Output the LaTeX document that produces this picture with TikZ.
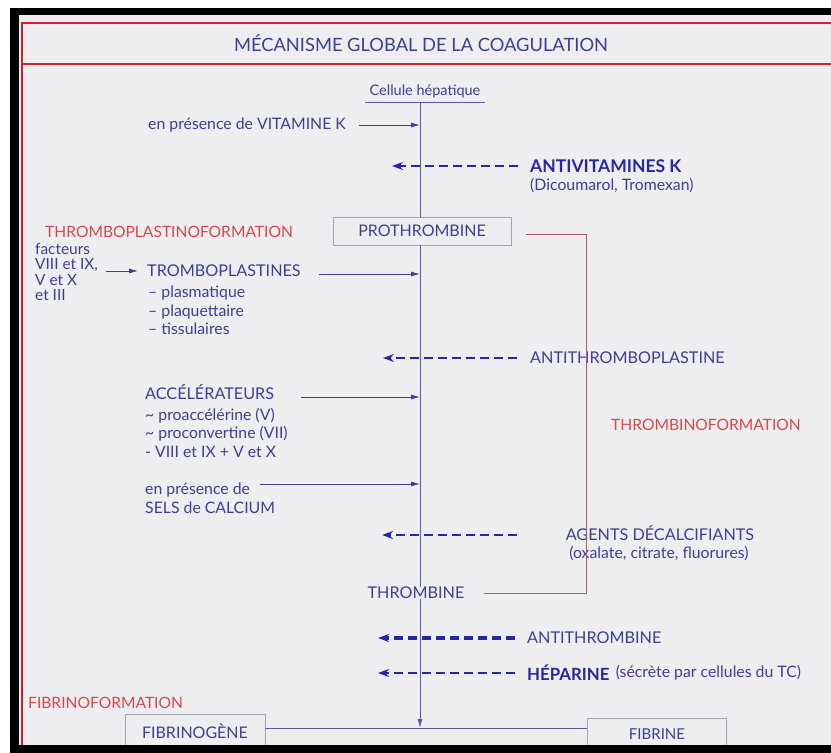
\documentclass[tikz,border=0pt]{standalone}
\usepackage{fontspec}
\setmainfont{Lato}
\usepackage{tikz}
\usetikzlibrary{positioning, calc, arrows.meta}
\definecolor{paper}{HTML}{EEEEF1}
\definecolor{ink}{HTML}{3C3F94}
\definecolor{deepink}{HTML}{2626A6}
\definecolor{redink}{HTML}{D9474A}
\definecolor{framered}{HTML}{D21F2F}
\definecolor{boxgrey}{HTML}{A2A2B4}
\definecolor{linkred}{HTML}{B05F6A}
\tikzset{>={Latex[length=9pt,width=5pt]}}

\begin{document}
\begin{tikzpicture}
    [x=1pt, y=-1pt,
     big/.style={text=ink, inner sep=0pt, font=\fontsize{16.2}{18}\selectfont},
     small/.style={text=ink, inner sep=0pt, align=left, font=\fontsize{15.8}{18.5}\selectfont},
     heavy/.style={text=deepink, inner sep=0pt, font=\fontsize{16.8}{18}\selectfont\bfseries},
     redlbl/.style={text=redink, inner sep=0pt, font=\fontsize{15.6}{18}\selectfont},
     my box/.style={draw=boxgrey, line width=0.8pt, text=ink, font=\fontsize{16}{18}\selectfont},
     feed/.style={->, draw=ink, line width=0.8pt},
     block/.style={-{Stealth[length=11pt,width=8pt]}, draw=deepink, line width=2.6pt, dash pattern=on 9pt off 5pt},
     spine/.style={draw=ink!85, line width=0.9pt},
     link/.style={draw=linkred, line width=0.9pt}]
    \useasboundingbox (0,0) rectangle (831,753);
    % frame
    \fill[white] (0,0) rectangle (831,753);
    \fill[black] (10,8) rectangle (831,753);
    \fill[paper] (19,15) rectangle (831,745);
    \draw[framered, line width=2pt] (22,745) -- (22,23) -- (831,23);
    \draw[framered, line width=2pt] (22,64) -- (831,64);
    \node[text=ink, font=\fontsize{18.3}{20}\selectfont] (title) at (421,43) {MÉCANISME GLOBAL DE LA COAGULATION};

    % source
    \node[small, font=\fontsize{14.5}{17}\selectfont] (cell) at (425,91) {Cellule hépatique};
    \coordinate (top) at (420,102);
    \draw[spine] (cell.west |- top) ++(-4,0) -- ([xshift=4pt]cell.east |- top);
    \node[small, anchor=west] (vitk) at (148,125) {en présence de VITAMINE K};
    \draw[feed] ([xshift=13pt]vitk.east) -- (vitk -| top);
    \node[heavy, font=\fontsize{17.5}{19}\selectfont\bfseries, anchor=west] (avk) at (530,166) {ANTIVITAMINES K};
    \node[small, anchor=west] (dicou) at (530,186) {(Dicoumarol, Tromexan)};
    \draw[block] ([xshift=-12pt]avk.west) -- ([xshift=-28pt]avk.west -| top);

    \node[my box, minimum width=178pt, minimum height=28pt] (proth) at (422,231) {PROTHROMBINE};
    \draw[spine] (top) -- (top |- proth.north);

    % thromboplastinoformation
    \node[redlbl, anchor=west] (tpf) at (45,232) {THROMBOPLASTINOFORMATION};
    \node[small, anchor=north west, font=\fontsize{15.4}{15.4}\selectfont] (fac) at (35,243) {facteurs\\VIII et IX,\\V et X\\et III};
    \node[big, anchor=west] (tpl) at (147,271) {TROMBOPLASTINES};
    \draw[feed] ([xshift=8pt]fac.east |- tpl) -- ([xshift=-9pt]tpl.west);
    \draw[feed] ([xshift=18pt,yshift=-3pt]tpl.east) -- ([yshift=-3pt]tpl.east -| top);
    \node[small, anchor=north west] (tpllist) at (148,286) {– plasmatique\\– plaquettaire\\– tissulaires};

    \node[big, anchor=west] (atp) at (530,358) {ANTITHROMBOPLASTINE};
    \draw[block] ([xshift=-13pt]atp.west) -- ([xshift=-37pt]atp.west -| top);

    \node[big, anchor=west] (acc) at (145,392) {ACCÉLÉRATEURS};
    \draw[feed] ([xshift=27pt,yshift=-5pt]acc.east) -- ([yshift=-5pt]acc.east -| top);
    \node[small, anchor=north west] (acclist) at (145,408) {\textasciitilde{} proaccélérine (V)\\\textasciitilde{} proconvertine (VII)\\- VIII et IX + V et X};

    \node[small, anchor=west] (cal1) at (145,490) {en présence de};
    \node[small, anchor=west] (cal2) at (145,508) {SELS de CALCIUM};
    \draw[feed] ([xshift=10pt,yshift=6pt]cal1.east) -- ([yshift=6pt]cal1.east -| top);

    \node[big] (adc) at (660,533) {AGENTS DÉCALCIFIANTS};
    \node[small] (oxa) at (659,554) {(oxalate, citrate, fluorures)};
    \draw[block] (adc.west -| atp.west) ++(-13,2) -- ([xshift=-38pt,yshift=-2pt]adc.west -| top);

    \node[redlbl] (tbf) at (706,425) {THROMBINOFORMATION};

    % thrombine
    \node[big] (thr) at (416,593) {THROMBINE};
    \draw[spine] (top |- proth.south) -- (top |- thr.north);
    \draw[link] ([xshift=15pt,yshift=-3pt]proth.east) -- ++(60,0) |- ([xshift=19pt]thr.east);

    \node[big, anchor=west] (ath) at (527,638) {ANTITHROMBINE};
    \draw[block, line width=3.2pt] ([xshift=-12pt]ath.west) -- ([xshift=-42pt]ath.west -| top);
    \node[heavy, anchor=west] (hep) at (527,673) {HÉPARINE};
    \node[small, right=6pt of hep] (sec) {(sécrète par cellules du TC)};
    \draw[block] ([xshift=-12pt]hep.west) -- ([xshift=-42pt]hep.west -| top);

    % fibrinoformation
    \node[redlbl, anchor=west] (fbf) at (28,703) {FIBRINOFORMATION};
    \node[my box, minimum width=140pt, minimum height=34pt] (fgn) at (195,731) {FIBRINOGÈNE};
    \node[my box, minimum width=139pt, minimum height=32pt, font=\fontsize{15}{17}\selectfont] (fbr) at (657,734) {FIBRINE};
    \coordinate (bot) at (420,728);
    \draw[spine] (fgn.east |- bot) -- (fbr.west |- bot);
    \draw[spine, ->] (top |- thr.south) -- (bot);

    \fill[black] (10,745) rectangle (831,753);
  \end{tikzpicture}
\end{document}
